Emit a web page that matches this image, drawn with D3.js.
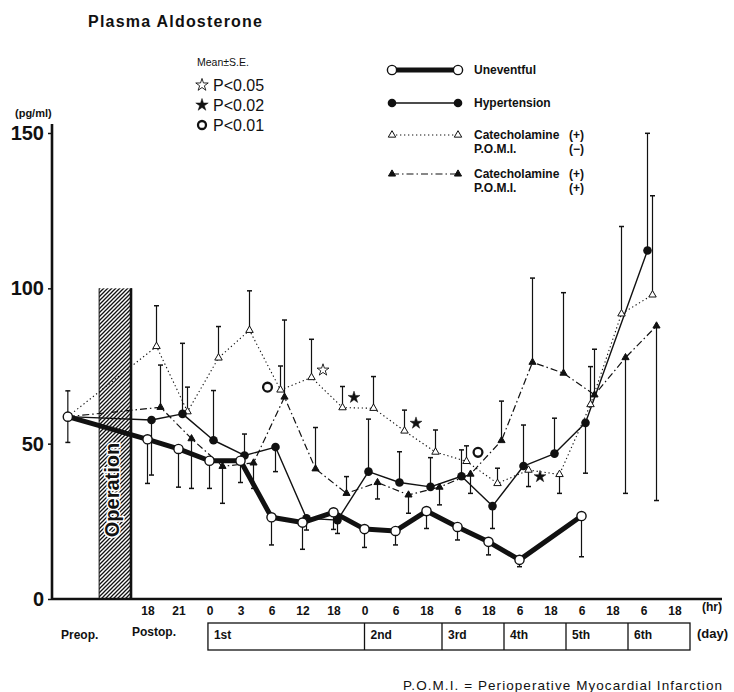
<!DOCTYPE html>
<html><head><meta charset="utf-8">
<script src="https://cdn.jsdelivr.net/npm/d3@7"></script>
<style>
body{margin:0;background:#fff}
svg{display:block}
text{font-family:"Liberation Sans",Arial,Helvetica,sans-serif;fill:#111}
</style>
</head><body>
<svg id="c" width="734" height="692"></svg>
<script>
// ---------------- data ----------------
const hourLabels = ["18","21","0","3","6","12","18","0","6","18","6","18","6","18","6","18","6","18"];
const yTicks = [0, 50, 100, 150];
const preopValue = 58.7;
const preopSE = 8.3;
// index 0 = Preop, 1..18 = postoperative sampling times
const uneventful     = [58.7,51.4,48.3,44.5,44.5,26.3,24.6,27.9,22.5,21.9,28.3,23.2,18.4,12.6,null,26.7,null,null,null];
const uneventfulSE   = [null,-14.2,-12.3,-8.9,-7.0,-8.9,-8.6,-5.5,-5.9,-4.5,-5.6,-4.2,-4.2,-2.2,null,-13.1,null,null,null];
const hypertension   = [58.7,57.6,59.6,51.1,46.2,48.9,26.0,25.4,41.0,37.5,36.1,39.5,29.9,42.8,46.8,56.7,null,112.2,null];
const hypertensionSE = [null,-17.7,22.7,16.0,6.9,-7.9,-3.8,-4.3,16.9,9.9,9.4,8.5,-7.2,13.2,11.4,-16.2,null,37.7,null];
const catechNoPomi   = [58.7,81.3,60.3,77.6,86.5,67.3,71.3,61.6,61.4,54.1,47.3,44.3,37.2,41.5,40.1,62.6,91.8,97.9,null];
const catechNoPomiSE = [null,13.1,7.9,10.1,12.7,7.7,12.3,6.8,10.2,6.7,7.1,5.0,4.9,-5.3,-6.1,12.2,28.1,31.9,null];
const catechPomi     = [58.7,61.7,51.6,42.7,43.8,65.0,41.9,34.0,37.5,33.5,36.0,40.2,51.0,76.2,72.7,65.7,77.7,87.9,null];
const catechPomiSE   = [null,13.6,-16.0,-11.9,-8.2,24.8,13.3,5.4,-5.3,-5.9,-5.7,-6.2,12.7,27.1,25.9,14.7,-43.7,-56.2,null];
// significance marks (attached to Catecholamine(+) P.O.M.I.(-) points)
const sigSlots  = [5, 6, 7, 9, 11, 13];
const sigTypes  = ["p01","p05","p02","p02","p01","p02"];
const sigValues = [68.2, 73.7, 64.9, 56.6, 47.2, 39.4];
const sigSides  = [-1, 1, 1, 1, 1, 1];
const dayLabels = ["1st","2nd","3rd","4th","5th","6th"];
const dayBounds = [2.95, 8, 10.5, 12.5, 14.5, 16.5, 18.5];
const operationRange = [0, 100];

// ---------------- layout ----------------
const W = 734, H = 692;
const svg = d3.select("#c");
svg.append("rect").attr("width", W).attr("height", H).attr("fill", "#fff");

const PREOP_POS = -1.57;
const x = d3.scaleLinear().domain([1, 18]).range([147.5, 674.5]);
const sx = i => x(i === 0 ? PREOP_POS : i);
const y = d3.scaleLinear().domain([0, 150]).range([599, 133]);
const AX = 52;

// hatch pattern
const defs = svg.append("defs");
const pat = defs.append("pattern").attr("id", "hatch").attr("patternUnits", "userSpaceOnUse")
  .attr("width", 4).attr("height", 4);
pat.append("rect").attr("width", 4).attr("height", 4).attr("fill", "#fff");
pat.append("path").attr("d", "M-1,1 l2,-2 M0,4 l4,-4 M3,5 l2,-2")
  .attr("stroke", "#111").attr("stroke-width", 1.3);

// title
svg.append("text").attr("x", 88).attr("y", 27).attr("font-size", 16).attr("font-weight", "bold")
  .attr("textLength", 174).attr("lengthAdjust", "spacing").text("Plasma Aldosterone");

// significance legend
svg.append("text").attr("x", 197).attr("y", 66).attr("font-size", 10.5).text("Mean\u00b1S.E.");
const sigLegend = [["p05", "P<0.05"], ["p02", "P<0.02"], ["p01", "P<0.01"]];
const sigLegY = [85, 105, 125];

function drawSig(g, type, cx, cy, big) {
  if (type === "p01") {
    g.append("circle").attr("cx", cx).attr("cy", cy).attr("r", big ? 4 : 4.4)
      .attr("fill", "#fff").attr("stroke", "#111").attr("stroke-width", 2.3);
  } else {
    g.append("path").attr("d", d3.symbol(d3.symbolStar, big ? 48 : 44)())
      .attr("transform", `translate(${cx},${cy})`)
      .attr("fill", type === "p02" ? "#111" : "#fff")
      .attr("stroke", "#111").attr("stroke-width", type === "p02" ? 0.5 : 0.9);
  }
}
sigLegend.forEach((d, k) => {
  drawSig(svg, d[0], 202, sigLegY[k], true);
  svg.append("text").attr("x", 213).attr("y", sigLegY[k] + 6).attr("font-size", 16).text(d[1]);
});

// y-axis
svg.append("text").attr("x", 15).attr("y", 117).attr("font-size", 11).attr("font-weight", "bold").text("(pg/ml)");
const yAxis = d3.axisLeft(y).tickValues(yTicks).tickSize(4).tickSizeOuter(0).tickPadding(4);
const gy = svg.append("g").attr("transform", `translate(${AX},0)`).call(yAxis);
gy.select(".domain").remove();
gy.selectAll(".tick line").attr("stroke", "#111").attr("stroke-width", 1.5);
gy.selectAll(".tick text").attr("font-size", 20).attr("font-weight", "bold")
  .attr("font-family", "Liberation Sans, Arial, sans-serif").attr("fill", "#111");
svg.append("line").attr("x1", AX).attr("x2", AX).attr("y1", 124).attr("y2", 600)
  .attr("stroke", "#111").attr("stroke-width", 2.6);

// operation bar
const opX0 = x(-0.56), opX1 = x(0.5);
svg.append("rect").attr("x", opX0).attr("y", y(operationRange[1]))
  .attr("width", opX1 - opX0).attr("height", y(operationRange[0]) - y(operationRange[1]))
  .attr("fill", "url(#hatch)");
svg.append("line").attr("x1", opX1 - 1).attr("x2", opX1 - 1).attr("y1", y(operationRange[1])).attr("y2", y(0))
  .attr("stroke", "#111").attr("stroke-width", 2.6);
svg.append("line").attr("x1", opX0).attr("x2", opX0).attr("y1", y(operationRange[1])).attr("y2", y(0))
  .attr("stroke", "#111").attr("stroke-width", 1);
svg.append("text").attr("transform", `translate(${(opX0 + opX1) / 2 + 3},${490}) rotate(-90)`)
  .attr("text-anchor", "middle").attr("font-size", 20).attr("font-weight", "bold")
  .attr("stroke", "#fff").attr("stroke-width", 3).attr("paint-order", "stroke")
  .text("Operation");

// x-axis line
svg.append("line").attr("x1", AX).attr("x2", 722).attr("y1", 599).attr("y2", 599)
  .attr("stroke", "#111").attr("stroke-width", 2.4);
const xAxis = d3.axisBottom(x).tickValues(d3.range(1, 19)).tickFormat(i => hourLabels[i - 1])
  .tickSize(0).tickPadding(7);
const gx = svg.append("g").attr("transform", "translate(0,599)").call(xAxis);
gx.select(".domain").remove();
gx.selectAll(".tick text").attr("font-size", 12).attr("font-weight", "bold")
  .attr("font-family", "Liberation Sans, Arial, sans-serif").attr("fill", "#111");
svg.append("text").attr("x", 712).attr("y", 611).attr("text-anchor", "middle")
  .attr("font-size", 12).attr("font-weight", "bold").text("(hr)");

// day row
svg.append("text").attr("x", 61).attr("y", 639).attr("font-size", 12).attr("font-weight", "bold").text("Preop.");
svg.append("text").attr("x", 132).attr("y", 636).attr("font-size", 12).attr("font-weight", "bold").text("Postop.");
const boxY0 = 623, boxY1 = 650;
svg.append("rect").attr("x", x(dayBounds[0])).attr("y", boxY0)
  .attr("width", x(dayBounds[dayBounds.length - 1]) - x(dayBounds[0])).attr("height", boxY1 - boxY0)
  .attr("fill", "none").attr("stroke", "#111").attr("stroke-width", 1.3);
dayBounds.slice(1, -1).forEach(b => {
  svg.append("line").attr("x1", x(b)).attr("x2", x(b)).attr("y1", boxY0).attr("y2", boxY1)
    .attr("stroke", "#111").attr("stroke-width", 1.3);
});
dayLabels.forEach((d, k) => {
  svg.append("text").attr("x", x(dayBounds[k]) + 6).attr("y", 639).attr("font-size", 12)
    .attr("font-weight", "bold").text(d);
});
svg.append("text").attr("x", 697).attr("y", 638).attr("font-size", 13).attr("font-weight", "bold").text("(day)");

// footer
svg.append("text").attr("x", 403).attr("y", 690).attr("font-size", 13.5)
  .attr("textLength", 319).attr("lengthAdjust", "spacing")
  .text("P.O.M.I.  =  Perioperative  Myocardial  Infarction");

// ---------------- series ----------------
const series = [
  { vals: catechNoPomi, se: catechNoPomiSE, dx: 9, width: 1.1, dash: "1.3,2.7", marker: "triOpen" },
  { vals: catechPomi, se: catechPomiSE, dx: 13, width: 1.2, dash: "7,3,1.5,3", marker: "triFill" },
  { vals: hypertension, se: hypertensionSE, dx: 4, width: 1.4, dash: null, marker: "circFill" },
  { vals: uneventful, se: uneventfulSE, dx: 0, width: 5, dash: null, marker: "circOpen" }
];
const px = (s, i) => sx(i) + (i === 0 ? 0 : s.dx);

function drawMarker(g, type, cx, cy) {
  if (type === "circOpen") {
    g.append("circle").attr("cx", cx).attr("cy", cy).attr("r", 4.6)
      .attr("fill", "#fff").attr("stroke", "#111").attr("stroke-width", 1.4);
  } else if (type === "circFill") {
    g.append("circle").attr("cx", cx).attr("cy", cy).attr("r", 4.3).attr("fill", "#111");
  } else {
    g.append("path").attr("d", d3.symbol(d3.symbolTriangle, type === "triOpen" ? 24 : 22)())
      .attr("transform", `translate(${cx},${cy})`)
      .attr("fill", type === "triOpen" ? "#fff" : "#111")
      .attr("stroke", "#111").attr("stroke-width", 1);
  }
}

const gErr = svg.append("g");
const gLines = svg.append("g");
const gMarks = svg.append("g");

// shared preop error bar
const pX = sx(0);
[preopValue - preopSE, preopValue + preopSE].forEach(v => {
  gErr.append("line").attr("x1", pX - 2.5).attr("x2", pX + 2.5).attr("y1", y(v)).attr("y2", y(v))
    .attr("stroke", "#111").attr("stroke-width", 1.5);
});
gErr.append("line").attr("x1", pX).attr("x2", pX).attr("y1", y(preopValue - preopSE)).attr("y2", y(preopValue + preopSE))
  .attr("stroke", "#111").attr("stroke-width", 1.2);

series.forEach(s => {
  const pts = s.vals.map((v, i) => ({ i, v })).filter(d => d.v != null);
  // error bars
  pts.forEach(d => {
    const e = s.se[d.i];
    if (e == null) return;
    const cx = px(s, d.i);
    gErr.append("line").attr("x1", cx).attr("x2", cx).attr("y1", y(d.v)).attr("y2", y(d.v + e))
      .attr("stroke", "#111").attr("stroke-width", 1.2);
    gErr.append("line").attr("x1", cx - 2.5).attr("x2", cx + 2.5).attr("y1", y(d.v + e)).attr("y2", y(d.v + e))
      .attr("stroke", "#111").attr("stroke-width", 1.5);
  });
  const line = d3.line().x(d => px(s, d.i)).y(d => y(d.v));
  gLines.append("path").datum(pts).attr("d", line).attr("fill", "none")
    .attr("stroke", "#111").attr("stroke-width", s.width)
    .attr("stroke-dasharray", s.dash).attr("stroke-linejoin", "round");
  pts.forEach(d => {
    if (d.i === 0 && s.marker !== "circOpen") return;
    drawMarker(gMarks, s.marker, px(s, d.i), y(d.v));
  });
});

// significance marks
const catS = series[0];
sigSlots.forEach((sl, k) => {
  drawSig(gMarks, sigTypes[k], px(catS, sl) + sigSides[k] * (sigSides[k] < 0 ? 13 : 11.5), y(sigValues[k]), false);
});

// ---------------- legend ----------------
const legX0 = 392, legX1 = 458, legTx = 474;
const legend = [
  { s: series[3], y: 70, lines: ["Uneventful"] },
  { s: series[2], y: 103, lines: ["Hypertension"] },
  { s: series[0], y: 135, lines: ["Catecholamine", "P.O.M.I."], signs: ["(+)", "(\u2212)"] },
  { s: series[1], y: 174, lines: ["Catecholamine", "P.O.M.I."], signs: ["(+)", "(+)"] }
];
const gLeg = svg.append("g");
legend.forEach(L => {
  gLeg.append("line").attr("x1", legX0).attr("x2", legX1).attr("y1", L.y).attr("y2", L.y)
    .attr("stroke", "#111").attr("stroke-width", L.s.width).attr("stroke-dasharray", L.s.dash);
  [legX0, legX1].forEach(cx => drawMarker(gLeg, L.s.marker, cx, L.y));
  L.lines.forEach((t, k) => {
    gLeg.append("text").attr("x", legTx).attr("y", L.y + 4 + k * 14).attr("font-size", 12)
      .attr("font-weight", "bold").text(t);
    if (L.signs) {
      gLeg.append("text").attr("x", 569).attr("y", L.y + 4 + k * 14).attr("font-size", 12)
        .attr("font-weight", "bold").text(L.signs[k]);
    }
  });
});
</script>
</body></html>
